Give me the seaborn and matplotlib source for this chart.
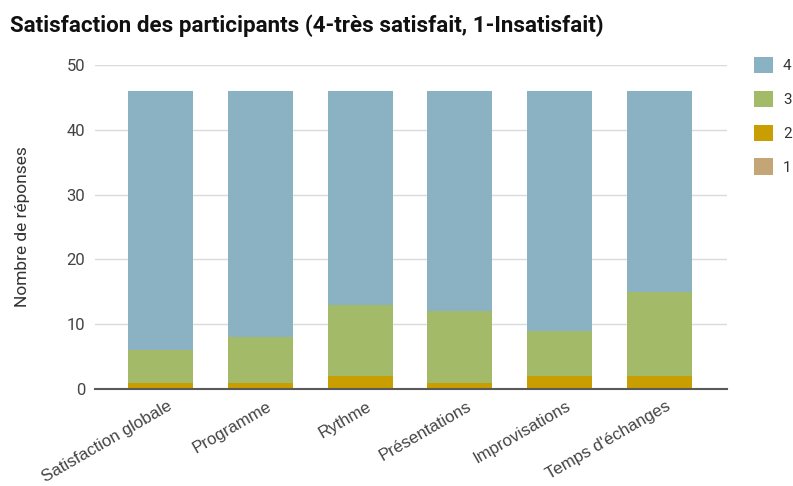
import matplotlib
matplotlib.use("Agg")
import matplotlib.pyplot as plt
import matplotlib.transforms as mtransforms
import pandas as pd
import seaborn as sns

categories = ["Satisfaction globale", "Programme", "Rythme", "Présentations",
              "Improvisations", "Temps d'échanges"]
levels = ["4", "3", "2", "1"]
n1 = [0, 0, 0, 0, 0, 0]
n2 = [1, 1, 2, 1, 2, 2]
n3 = [5, 7, 11, 11, 7, 13]
n4 = [40, 38, 33, 34, 37, 31]
colors = {"4": "#8ab2c3", "3": "#a3bb69", "2": "#c99e00", "1": "#c3a576"}

sns.set_style("white")
plt.rcParams["font.family"] = ["Roboto", "DejaVu Sans"]

df = pd.DataFrame({"cat": categories, "1": n1, "2": n2, "3": n3, "4": n4})
# cumulative heights, drawn from the top segment down
cum = {
    "4": df["1"] + df["2"] + df["3"] + df["4"],
    "3": df["1"] + df["2"] + df["3"],
    "2": df["1"] + df["2"],
    "1": df["1"],
}

fig = plt.figure(figsize=(7.93, 4.86), dpi=100)
ax = fig.add_axes([0.1198, 0.1996, 0.797, 0.6667])
for lvl in levels:
    sns.barplot(x=df["cat"], y=cum[lvl], color=colors[lvl], width=0.65,
                ax=ax, label=lvl, saturation=1, linewidth=0, zorder=3)

ax.set_xlim(-0.656, 5.676)
ax.set_ylim(0, 50)
ax.set_yticks([0, 10, 20, 30, 40, 50])
ax.grid(axis="y", color="#dadada", linewidth=1, zorder=0)
for s in ["top", "right", "left"]:
    ax.spines[s].set_visible(False)
ax.spines["bottom"].set_color("#5a5a5a")
ax.spines["bottom"].set_linewidth(1.5)
ax.spines["bottom"].set_zorder(4)
ax.tick_params(axis="y", length=0, labelsize=12, labelcolor="#444444", pad=7)
ax.tick_params(axis="x", length=0, labelsize=12.2, labelcolor="#444444", pad=11.5)
shift = mtransforms.ScaledTranslation(0.10, 0, fig.dpi_scale_trans)
for lab in ax.get_xticklabels():
    lab.set_rotation(30)
    lab.set_ha("right")
    lab.set_va("center")
    lab.set_rotation_mode("anchor")
    lab.set_family(["Liberation Sans", "DejaVu Sans"])
    lab.set_transform(lab.get_transform() + shift)
ax.set_xlabel("")
ax.set_ylabel("")
fig.text(0.029, 0.1996 + 0.6667 / 2, "Nombre de réponses", rotation=90,
         fontsize=12.5, color="#333333", ha="center", va="center")

fig.text(0.012, 0.948, "Satisfaction des participants (4-très satisfait, 1-Insatisfait)",
         fontsize=16.1, fontweight="bold", color="#111111", va="center")

ax.legend(loc="upper left", bbox_to_anchor=(754 / 793, (486 - 57) / 486),
          bbox_transform=fig.transFigure, frameon=False, borderpad=0,
          borderaxespad=0, fontsize=11, labelspacing=1.15, handlelength=1.25,
          handleheight=1.25, handletextpad=0.65, labelcolor="#333333")

fig.savefig("out.png", dpi=100)
